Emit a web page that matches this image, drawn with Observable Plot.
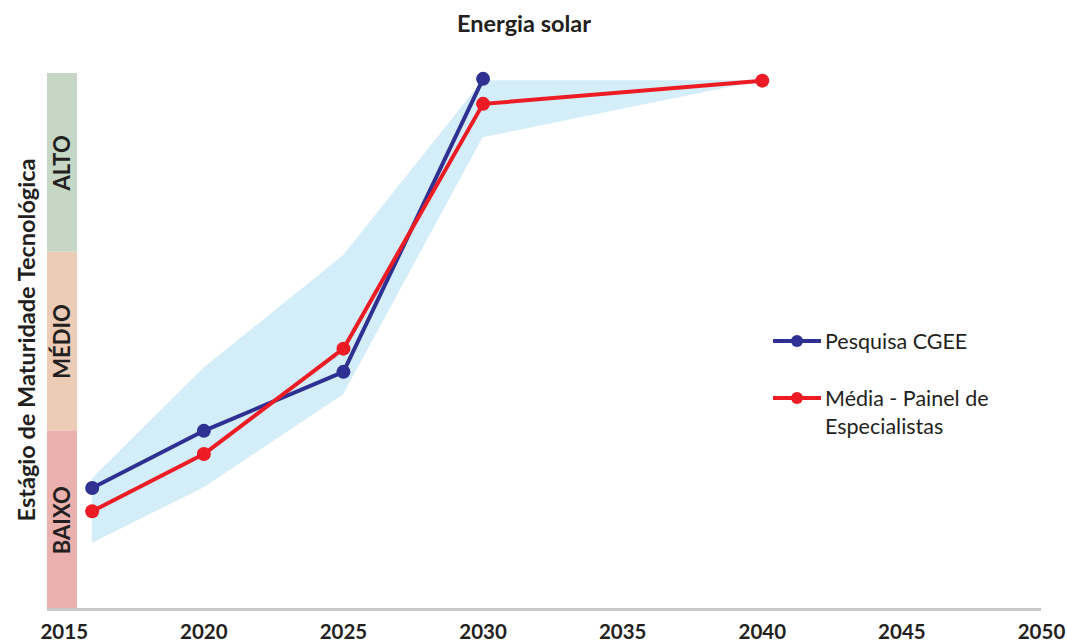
<!DOCTYPE html>
<html><head><meta charset="utf-8">
<script src="https://cdn.jsdelivr.net/npm/d3@7"></script>
<script src="https://cdn.jsdelivr.net/npm/@observablehq/plot@0.6"></script>
<style>
body{margin:0;background:#fff;font-family:Lato,"Open Sans",sans-serif;color:#231f20}
#wrap{position:relative;width:1067px;height:642px;overflow:hidden}
#title{position:absolute;top:9px;left:524px;transform:translateX(-50%);font-weight:bold;font-size:23.5px;white-space:nowrap}
#chart{position:absolute;top:50px;left:0}
#ytitle{position:absolute;left:26px;top:340px;transform:translate(-50%,-50%) rotate(-90deg);font-weight:bold;font-size:23.5px;white-space:nowrap}
.leg{position:absolute;left:773px;display:flex;align-items:flex-start;font-size:21.5px;line-height:28px}
.leg svg{margin-top:4px;margin-right:4px;flex:none}
</style></head>
<body><div id="wrap">
<div id="title">Energia solar</div>
<div id="ytitle">Estágio de Maturidade Tecnológica</div>
<div id="chart"></div>
<div id="legend"></div>
</div>
<script>
const years = [2016, 2020, 2025, 2030, 2040];
const cgeeYears = [2016, 2020, 2025, 2030];
const cgeeValues = [0.68, 1.0, 1.33, 2.97];
const painelValues = [0.55, 0.87, 1.46, 2.83, 2.96];
const bandLow = [0.37, 0.68, 1.2, 2.64, 2.96];
const bandHigh = [0.73, 1.35, 1.98, 2.96, 2.96];
const levels = ["BAIXO", "MÉDIO", "ALTO"];
const levelColors = ["#ebb1af", "#ecccb7", "#c6d8c5"];
const xTicks = [2015, 2020, 2025, 2030, 2035, 2040, 2045, 2050];
const seriesNames = ["Pesquisa CGEE", "Média - Painel de Especialistas"];
const seriesColors = ["#2e3192", "#ed1c24"];

const xStart = 2014.4, bandEnd = 2015.475;
const cgee = cgeeYears.map((y, i) => ({year: y, value: cgeeValues[i]}));
const painel = years.map((y, i) => ({year: y, value: painelValues[i]}));
const band = years.map((y, i) => ({year: y, lo: bandLow[i], hi: bandHigh[i]}));
const lv = levels.map((name, i) => ({name, i, color: levelColors[i]}));

const chart = Plot.plot({
  width: 1067, height: 592,
  marginLeft: 47, marginRight: 26, marginTop: 23, marginBottom: 33,
  style: {fontFamily: "Lato, 'Open Sans', sans-serif", color: "#231f20", background: "transparent"},
  x: {domain: [xStart, 2050], ticks: xTicks, tickFormat: d => String(d), tickSize: 0, tickPadding: 15, label: null},
  y: {domain: [0, 3], axis: null},
  color: {type: "identity"},
  marks: [
    Plot.rect(lv, {x1: () => xStart, x2: () => bandEnd, y1: d => d.i, y2: d => d.i + 1, fill: "color"}),
    Plot.text(lv, {x: () => (xStart + bandEnd) / 2, y: d => d.i + 0.5, text: "name", rotate: -90, fontWeight: "bold", fontSize: 22, fill: "#231f20"}),
    Plot.ruleY([0], {stroke: "#c7c8ca", strokeWidth: 3}),
    Plot.areaY(band, {x: "year", y1: "lo", y2: "hi", fill: "#d3edf9"}),
    Plot.line(cgee, {x: "year", y: "value", stroke: seriesColors[0], strokeWidth: 4}),
    Plot.dot(cgee, {x: "year", y: "value", r: 7, fill: seriesColors[0]}),
    Plot.line(painel, {x: "year", y: "value", stroke: seriesColors[1], strokeWidth: 4}),
    Plot.dot(painel, {x: "year", y: "value", r: 7, fill: seriesColors[1]})
  ]
});
chart.querySelectorAll("g[aria-label='x-axis tick label']").forEach(g => {
  g.setAttribute("font-weight", "bold"); g.setAttribute("font-size", "20.5");
});
document.getElementById("chart").appendChild(chart);

const legend = document.getElementById("legend");
const tops = [327, 384];
seriesNames.forEach((name, i) => {
  const d = document.createElement("div");
  d.className = "leg";
  d.style.top = tops[i] + "px";
  d.style.width = "260px";
  d.innerHTML = `<svg width="48" height="20"><line x1="0" x2="48" y1="10" y2="10" stroke="${seriesColors[i]}" stroke-width="4"/><circle cx="24" cy="10" r="6" fill="${seriesColors[i]}"/></svg><span>${name.replace(" de Especialistas", " de<br>Especialistas")}</span>`;
  legend.appendChild(d);
});
</script>
</body></html>
